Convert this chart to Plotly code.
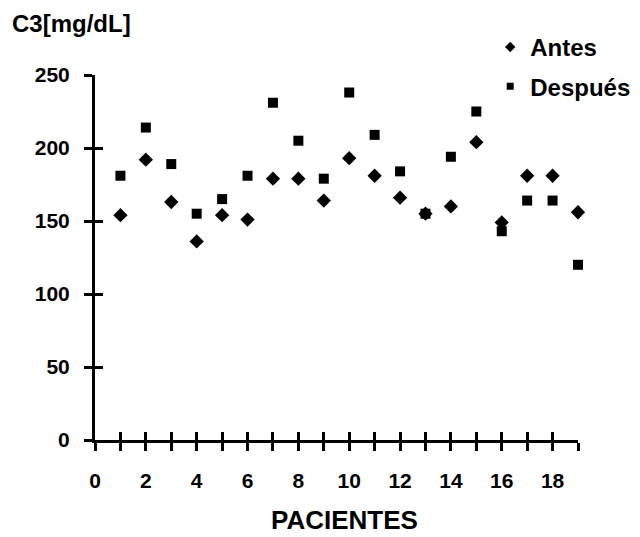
import plotly.graph_objects as go

pacientes = list(range(1, 20))
antes = [154, 192, 163, 136, 154, 151, 179, 179, 164, 193, 181, 166, 155, 160, 204, 149, 181, 181, 156]
despues = [181, 214, 189, 155, 165, 181, 231, 205, 179, 238, 209, 184, 155, 194, 225, 143, 164, 164, 120]

x_ticks = list(range(0, 20, 2))
y_ticks = [0, 50, 100, 150, 200, 250]

FONT = "Liberation Sans, Arial, sans-serif"

fig = go.Figure()
fig.add_trace(go.Scatter(
    x=pacientes, y=antes, mode="markers", name="Antes", legendgroup="a", showlegend=False,
    marker=dict(symbol="diamond", size=11, color="black"), cliponaxis=False))
fig.add_trace(go.Scatter(
    x=pacientes, y=despues, mode="markers", name="Después", legendgroup="d", showlegend=False,
    marker=dict(symbol="square", size=10, color="black"), cliponaxis=False))
fig.add_trace(go.Scatter(x=[None], y=[None], mode="markers", name="Antes", legendgroup="a",
                         marker=dict(symbol="diamond", size=8, color="black")))
fig.add_trace(go.Scatter(x=[None], y=[None], mode="markers", name="Después", legendgroup="d",
                         marker=dict(symbol="square", size=7, color="black")))
# trace on overlay axes (carries the inside half of the crossing ticks)
fig.add_trace(go.Scatter(x=pacientes, y=antes, xaxis="x2", yaxis="y2", mode="markers",
                         marker=dict(size=1, color="rgba(0,0,0,0)"), showlegend=False,
                         hoverinfo="skip"))

axis_font = dict(family=FONT, size=21, color="black", weight="bold")

fig.update_layout(
    width=632, height=529,
    margin=dict(l=87, r=62, t=67, b=97, autoexpand=False),
    paper_bgcolor="white", plot_bgcolor="white",
    showlegend=True,
    legend=dict(xref="container", yref="container", x=0.763, y=0.968,
                xanchor="left", yanchor="top",
                font=dict(family=FONT, size=24, color="black", weight="bold"),
                tracegroupgap=5, bgcolor="rgba(0,0,0,0)", itemwidth=30),
    xaxis=dict(range=[0, 19], tickvals=x_ticks, ticktext=[str(v) for v in x_ticks],
               ticks="outside", ticklen=8, tickwidth=3, tickcolor="black",
               minor=dict(dtick=1, ticks="outside", ticklen=8, tickwidth=3, tickcolor="black"),
               showline=True, linewidth=3, linecolor="black", showgrid=False, zeroline=False,
               tickfont=axis_font, ticklabelstandoff=12, automargin=False),
    yaxis=dict(range=[0, 250], tickvals=y_ticks, ticks="outside", ticklen=8, tickwidth=3,
               tickcolor="black", showline=True, linewidth=3, linecolor="black",
               showgrid=False, zeroline=False, tickfont=axis_font, ticklabelstandoff=10,
               automargin=False),
    xaxis2=dict(overlaying="x", anchor="y2", range=[0, 19], tickmode="linear", dtick=1, tick0=0,
                ticks="inside", ticklen=8, tickwidth=3, tickcolor="black",
                showticklabels=False, showgrid=False, zeroline=False, showline=False,
                side="bottom"),
    yaxis2=dict(overlaying="y", anchor="x2", range=[0, 250], tickmode="linear", dtick=50, tick0=0,
                ticks="inside", ticklen=8, tickwidth=3, tickcolor="black",
                showticklabels=False, showgrid=False, zeroline=False, showline=False,
                side="left"),
    annotations=[
        dict(text="C3[mg/dL]", xref="paper", yref="paper", x=-0.176, y=1.142,
             xanchor="left", yanchor="middle", showarrow=False,
             font=dict(family=FONT, size=24, color="black", weight="bold")),
        dict(text="PACIENTES", xref="paper", yref="paper", x=0.516, y=-0.219,
             xanchor="center", yanchor="middle", showarrow=False,
             font=dict(family=FONT, size=26, color="black", weight="bold")),
    ],
)

fig.write_html("out.html")
